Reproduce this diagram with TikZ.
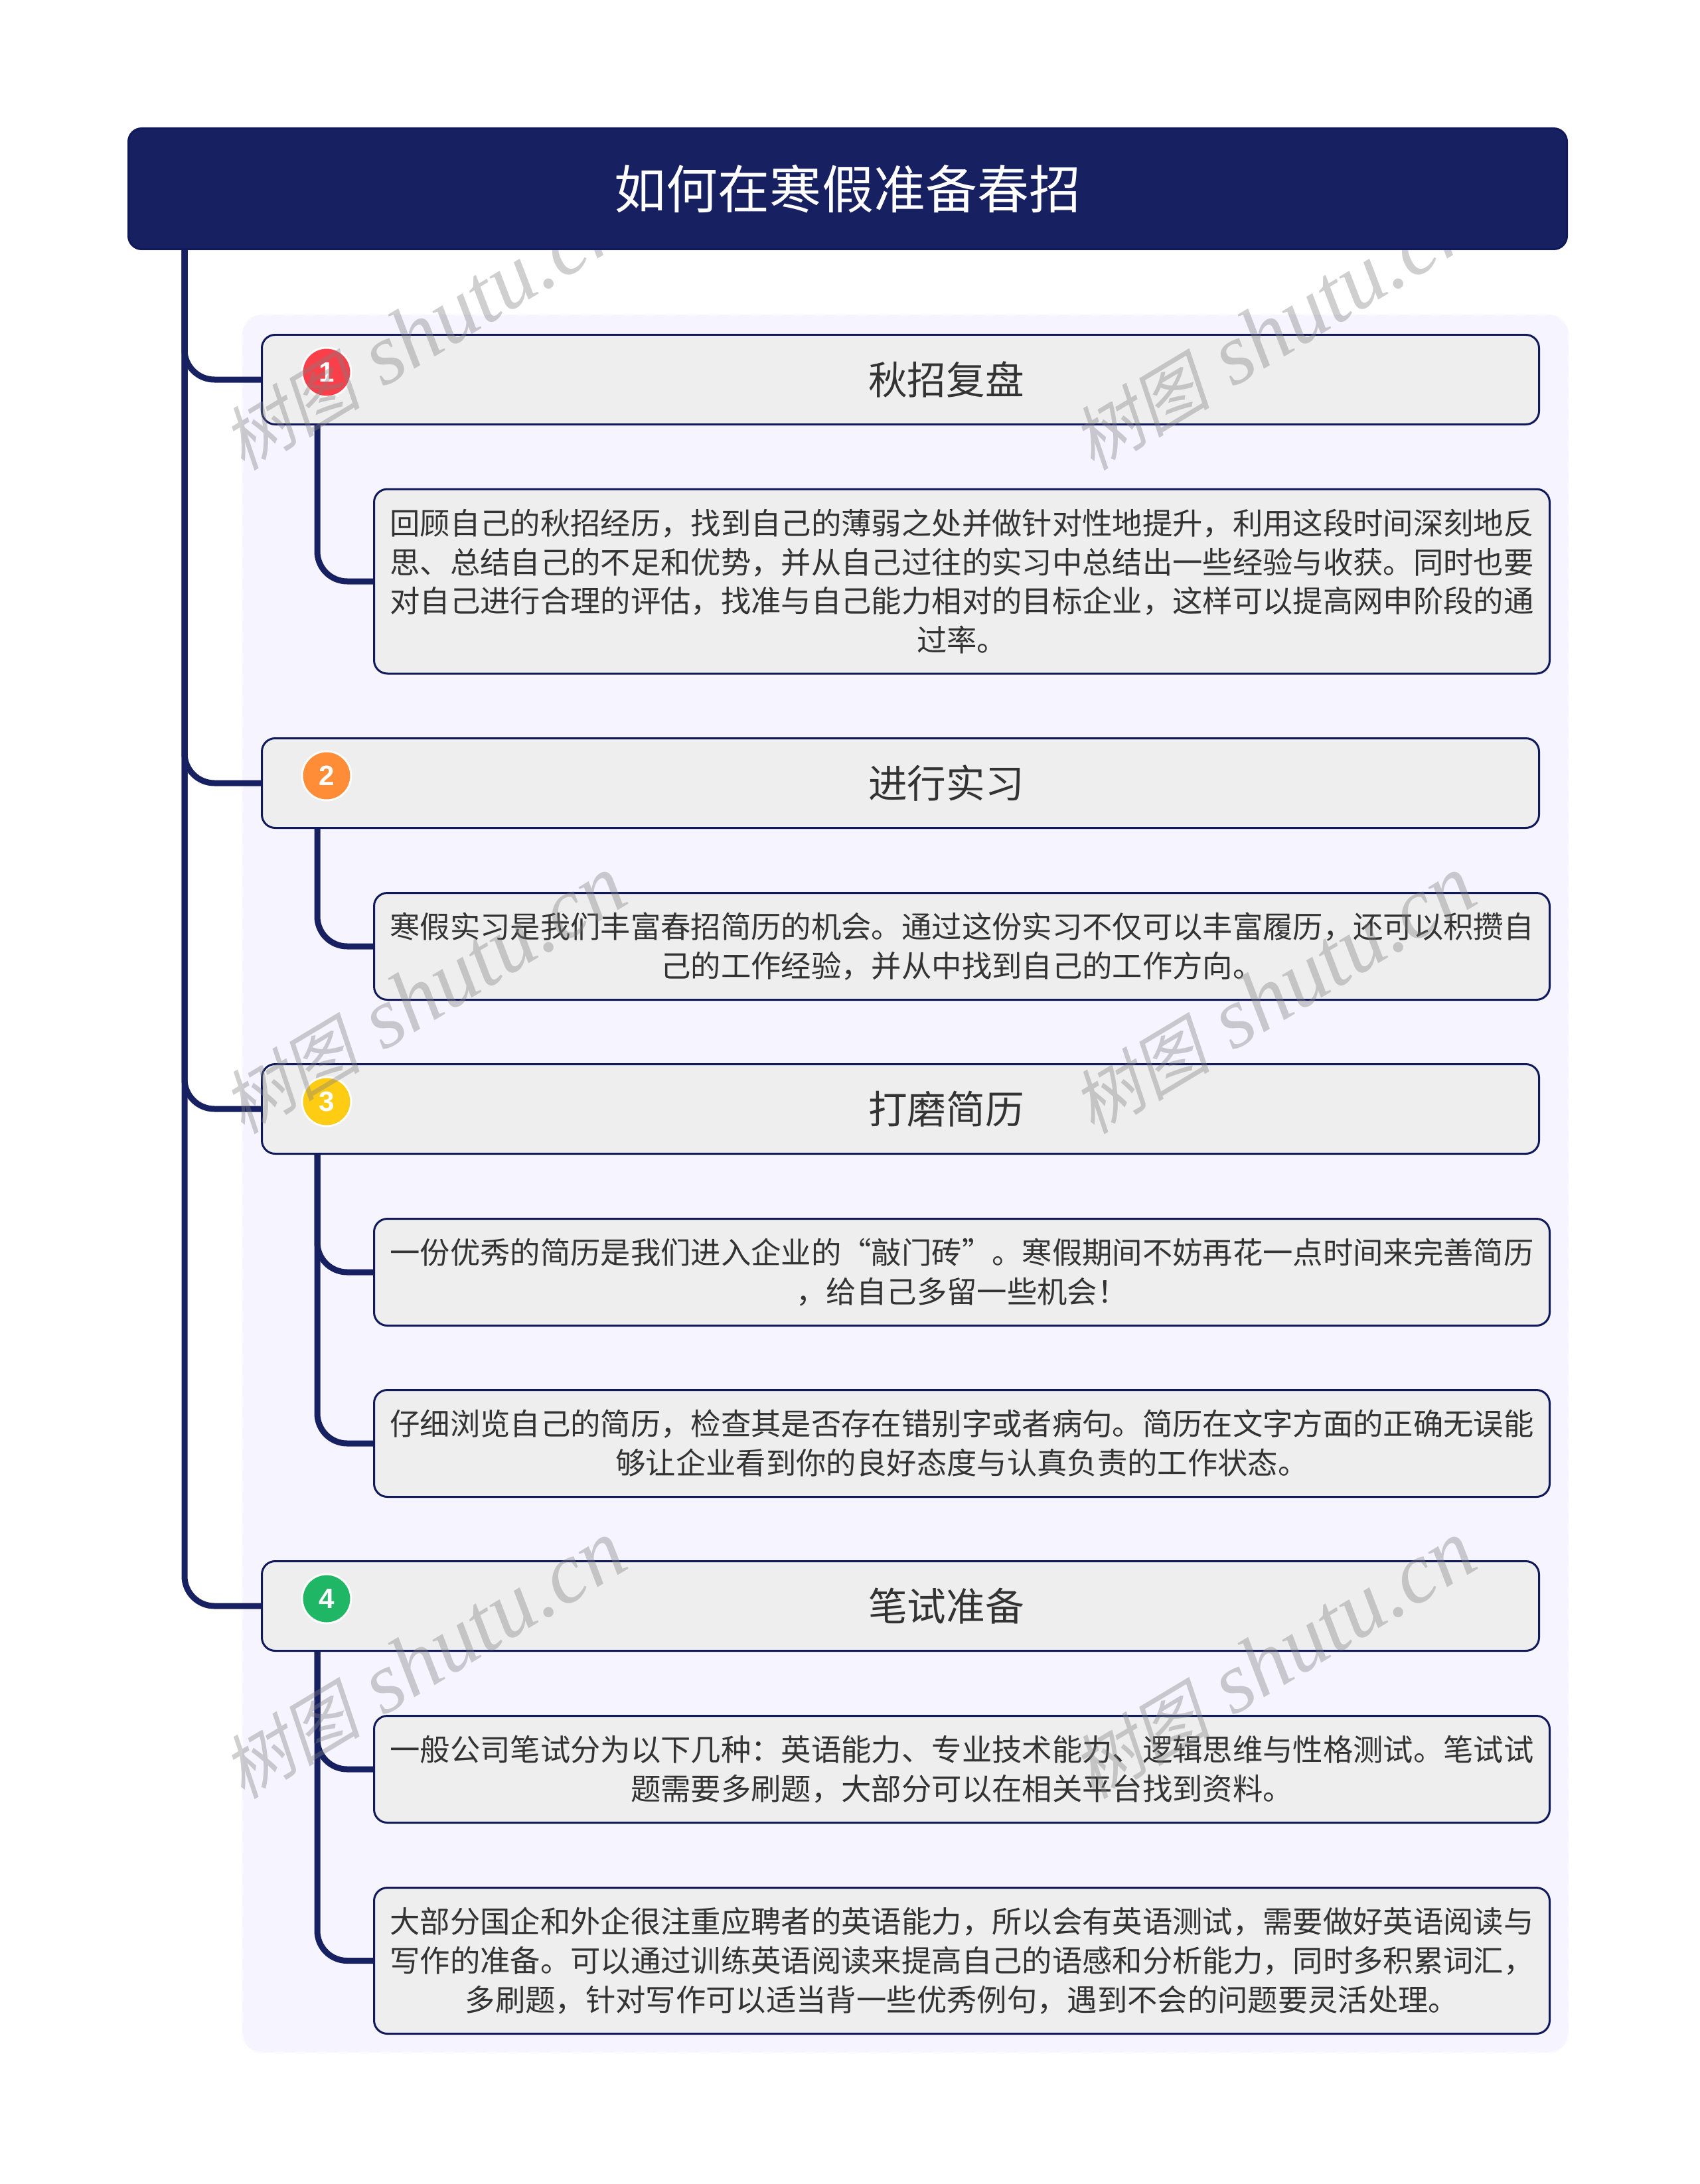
\documentclass[tikz,border=0pt]{standalone}
\usepackage{fontspec}
\setmainfont{Liberation Sans}
\newfontfamily\cjk{Noto Sans CJK SC}
\newfontfamily\markcjk[FakeSlant=0.22]{Noto Sans CJK SC}
\newfontfamily\markfont{Liberation Serif}
\definecolor{navy}{HTML}{172061}
\definecolor{edge}{HTML}{10195A}
\definecolor{panelbg}{HTML}{F6F4FE}
\definecolor{boxbg}{HTML}{EEEEEE}
\definecolor{ink}{HTML}{333333}
\definecolor{badgeA}{HTML}{F93F4A}
\definecolor{badgeB}{HTML}{FF8C37}
\definecolor{badgeC}{HTML}{FFCC14}
\definecolor{badgeD}{HTML}{1FB766}
\tikzset{
    rootbox/.style={draw=edge,line width=0.03cm,fill=navy,rounded corners=0.2cm,anchor=north west,minimum width=21.67cm,minimum height=1.82cm,text=white,font=\cjk\fontsize{22.2}{26}\selectfont},
    headbox/.style={draw=edge,line width=0.03cm,fill=boxbg,rounded corners=0.2cm,anchor=north west,minimum width=19.24cm,minimum height=1.35cm,text=ink,font=\cjk\fontsize{16.7}{20}\selectfont,execute at begin node={\hspace*{1.38cm}}},
    subbox/.style={draw=edge,line width=0.03cm,fill=boxbg,rounded corners=0.2cm,anchor=north west,minimum width=17.71cm,inner sep=0pt,align=center,text=ink,font=\cjk\fontsize{12.9}{16.7}\selectfont},
    badge/.style={circle,draw=white!80!boxbg,line width=0.03cm,minimum size=0.74cm,inner sep=0pt,text=white,font=\bfseries\fontsize{12}{12}\selectfont},
    link/.style={draw=navy,line width=0.09cm},
    stamp/.style={rotate=31,text=gray,opacity=0.38,inner sep=0pt}
}
\newcommand{\stamptext}{{\markcjk\fontsize{30}{30}\selectfont 树图}\hspace{0.35cm}{\markfont\itshape\fontsize{37}{37}\selectfont shutu.cn}}
\begin{document}
\begin{tikzpicture}
    \useasboundingbox (0,0) rectangle (25.6,-32.91);
    % panel
    \draw [fill=panelbg,draw=white!50!panelbg,line width=0.03cm,dash pattern=on 0.16cm off 0.16cm,rounded corners=0.3cm] (3.65,-4.74) rectangle (23.63,-30.93);
    % boxes
    \node [headbox] (h1) at (3.93,-5.03) {秋招复盘};
    \node [headbox] (h2) at (3.93,-11.11) {进行实习};
    \node [headbox] (h3) at (3.93,-16.02) {打磨简历};
    \node [headbox] (h4) at (3.93,-23.51) {笔试准备};
    \node [subbox,minimum height=2.78cm] (s1) at (5.62,-7.355) {回顾自己的秋招经历，找到自己的薄弱之处并做针对性地提升，利用这段时间深刻地反\\思、总结自己的不足和优势，并从自己过往的实习中总结出一些经验与收获。同时也要\\对自己进行合理的评估，找准与自己能力相对的目标企业，这样可以提高网申阶段的通\\过率。};
    \node [subbox,minimum height=1.61cm] (s2) at (5.62,-13.44) {寒假实习是我们丰富春招简历的机会。通过这份实习不仅可以丰富履历，还可以积攒自\\己的工作经验，并从中找到自己的工作方向。};
    \node [subbox,minimum height=1.61cm] (s3) at (5.62,-18.35) {一份优秀的简历是我们进入企业的“敲门砖”。寒假期间不妨再花一点时间来完善简历\\，给自己多留一些机会！};
    \node [subbox,minimum height=1.61cm] (s4) at (5.62,-20.93) {仔细浏览自己的简历，检查其是否存在错别字或者病句。简历在文字方面的正确无误能\\够让企业看到你的良好态度与认真负责的工作状态。};
    \node [subbox,minimum height=1.61cm] (s5) at (5.62,-25.84) {一般公司笔试分为以下几种：英语能力、专业技术能力、逻辑思维与性格测试。笔试试\\题需要多刷题，大部分可以在相关平台找到资料。};
    \node [subbox,minimum height=2.2cm] (s6) at (5.62,-28.43) {大部分国企和外企很注重应聘者的英语能力，所以会有英语测试，需要做好英语阅读与\\写作的准备。可以通过训练英语阅读来提高自己的语感和分析能力，同时多积累词汇，\\多刷题，针对写作可以适当背一些优秀例句，遇到不会的问题要灵活处理。};
    % branches
    \coordinate (trunk) at (2.78,-3.74);
    \coordinate (b1) at ([xshift=0.85cm]h1.south west);
    \coordinate (b2) at ([xshift=0.85cm]h2.south west);
    \coordinate (b3) at ([xshift=0.85cm]h3.south west);
    \coordinate (b4) at ([xshift=0.85cm]h4.south west);
    \draw [link,rounded corners=0.45cm] (trunk) |- (h1.west);
    \draw [link,rounded corners=0.45cm] (trunk) |- (h2.west);
    \draw [link,rounded corners=0.45cm] (trunk) |- (h3.west);
    \draw [link,rounded corners=0.45cm] (trunk) |- (h4.west);
    \draw [link,rounded corners=0.45cm] (b1) |- (s1.west);
    \draw [link,rounded corners=0.45cm] (b2) |- (s2.west);
    \draw [link,rounded corners=0.45cm] (b3) |- (s3.west);
    \draw [link,rounded corners=0.45cm] (b3) |- (s4.west);
    \draw [link,rounded corners=0.45cm] (b4) |- (s5.west);
    \draw [link,rounded corners=0.45cm] (b4) |- (s6.west);
    % badges
    \node [badge,fill=badgeA] (n1) at (4.92,-5.61) {1};
    \node [badge,fill=badgeB] (n2) at (4.92,-11.69) {2};
    \node [badge,fill=badgeC] (n3) at (4.92,-16.6) {3};
    \node [badge,fill=badgeD] (n4) at (4.92,-24.09) {4};
    % marks
    \node [stamp] (m1) at (6.38,-5.0) {\stamptext};
    \node [stamp] (m2) at (19.18,-5.0) {\stamptext};
    \node [stamp] (m3) at (6.38,-15.0) {\stamptext};
    \node [stamp] (m4) at (19.18,-15.0) {\stamptext};
    \node [stamp] (m5) at (6.38,-25.02) {\stamptext};
    \node [stamp] (m6) at (19.18,-25.02) {\stamptext};
    % title
    \node [rootbox] (root) at (1.92,-1.92) {如何在寒假准备春招};
\end{tikzpicture}
\end{document}
